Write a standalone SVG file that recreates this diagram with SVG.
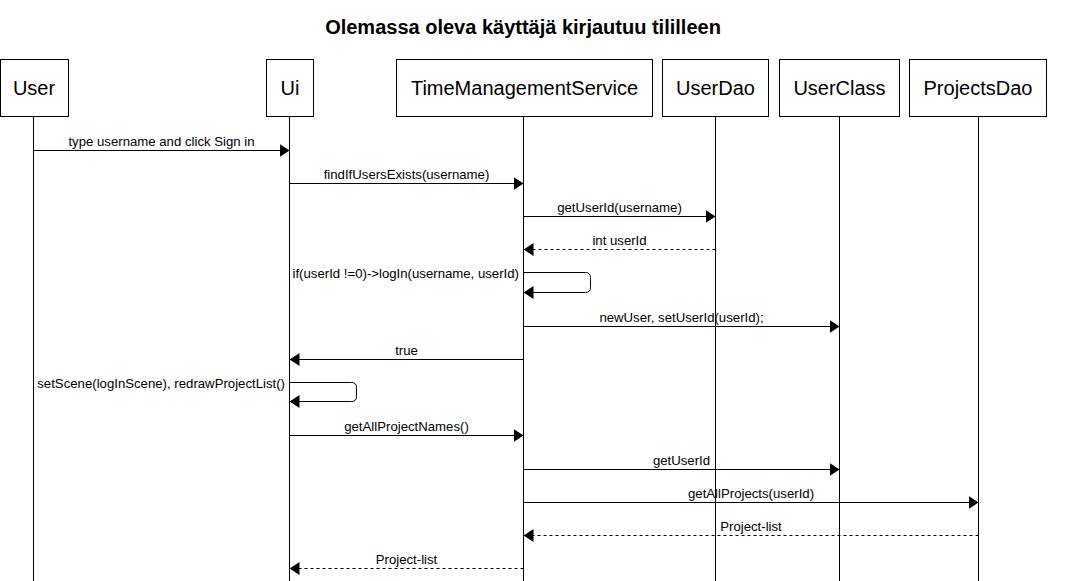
<svg xmlns="http://www.w3.org/2000/svg" width="1077" height="581" viewBox="0 0 1077 581">
<style>
.box{fill:#fff;stroke:#000;stroke-width:1}
.life{stroke:#000;stroke-width:1;fill:none}
.msg{stroke:#000;stroke-width:1;fill:none;marker-end:url(#arr)}
.ret{stroke:#000;stroke-width:1;fill:none;stroke-dasharray:3 3;marker-end:url(#arr)}
.nt{font-family:"Liberation Sans",Arial,sans-serif;font-size:20px;fill:#000;text-anchor:middle}
.lb{font-family:"Liberation Sans",Arial,sans-serif;font-size:13.2px;fill:#000;text-anchor:middle}
.lr{font-family:"Liberation Sans",Arial,sans-serif;font-size:13.2px;fill:#000;text-anchor:end}
.title{font-family:"Liberation Sans",Arial,sans-serif;font-size:20px;font-weight:bold;fill:#000;text-anchor:middle}
</style>
<defs>
<marker id="arr" markerUnits="userSpaceOnUse" viewBox="0 0 10 13" refX="10" refY="6.5" markerWidth="10" markerHeight="13" orient="auto">
<path d="M0,0 L10,6.5 L0,13 Z" fill="#000"/>
</marker>
</defs>
<rect width="1077" height="581" fill="#fff"/>
<text class="title" x="523" y="34">Olemassa oleva käyttäjä kirjautuu tililleen</text>

<g id="user">
<line class="life" x1="33.5" y1="116.5" x2="33.5" y2="581"/>
<rect class="box" x="0.5" y="59.5" width="68" height="57"/>
<text class="nt" x="34" y="95">User</text>
</g>
<g id="ui">
<line class="life" x1="289.5" y1="116.5" x2="289.5" y2="581"/>
<rect class="box" x="266.5" y="59.5" width="47" height="57"/>
<text class="nt" x="290" y="95">Ui</text>
</g>
<g id="tms">
<line class="life" x1="523.5" y1="116.5" x2="523.5" y2="581"/>
<rect class="box" x="396.5" y="59.5" width="256" height="57"/>
<text class="nt" x="524.5" y="95">TimeManagementService</text>
</g>
<g id="userdao">
<line class="life" x1="715.5" y1="116.5" x2="715.5" y2="581"/>
<rect class="box" x="662.5" y="59.5" width="106" height="57"/>
<text class="nt" x="715.5" y="95">UserDao</text>
</g>
<g id="userclass">
<line class="life" x1="839.5" y1="116.5" x2="839.5" y2="581"/>
<rect class="box" x="779.5" y="59.5" width="120" height="57"/>
<text class="nt" x="839.5" y="95">UserClass</text>
</g>
<g id="projectsdao">
<line class="life" x1="978.5" y1="116.5" x2="978.5" y2="581"/>
<rect class="box" x="909.5" y="59.5" width="137" height="57"/>
<text class="nt" x="978" y="95">ProjectsDao</text>
</g>

<g id="connectors">
<path class="msg" d="M33.5,150.5 H289.5"/>
<text class="lb" x="161.5" y="146">type username and click Sign in</text>

<path class="msg" d="M289.5,183.5 H523.5"/>
<text class="lb" x="406.5" y="179">findIfUsersExists(username)</text>

<path class="msg" d="M523.5,216.5 H715.5"/>
<text class="lb" x="619.5" y="212">getUserId(username)</text>

<path class="ret" d="M715.5,249.5 H523.5"/>
<text class="lb" x="619.5" y="245">int userId</text>

<path class="msg" d="M523.5,272.5 H585.5 Q590.5,272.5 590.5,277.5 V287.5 Q590.5,292.5 585.5,292.5 H523.5"/>
<text class="lr" x="519" y="278">if(userId !=0)-&gt;logIn(username, userId)</text>

<path class="msg" d="M523.5,326.5 H839.5"/>
<text class="lb" x="681.5" y="322">newUser, setUserId(userId);</text>

<path class="msg" d="M523.5,359.5 H289.5"/>
<text class="lb" x="406.5" y="355">true</text>

<path class="msg" d="M289.5,382.5 H351.5 Q356.5,382.5 356.5,387.5 V396.5 Q356.5,401.5 351.5,401.5 H289.5"/>
<text class="lr" x="285" y="388">setScene(logInScene), redrawProjectList()</text>

<path class="msg" d="M289.5,435.5 H523.5"/>
<text class="lb" x="406.5" y="431">getAllProjectNames()</text>

<path class="msg" d="M523.5,469.5 H839.5"/>
<text class="lb" x="681.5" y="465">getUserId</text>

<path class="msg" d="M523.5,502.5 H978.5"/>
<text class="lb" x="751" y="498">getAllProjects(userId)</text>

<path class="ret" d="M978.5,535.5 H523.5"/>
<text class="lb" x="751" y="531">Project-list</text>

<path class="ret" d="M523.5,568.5 H289.5"/>
<text class="lb" x="406.5" y="564">Project-list</text>
</g>
</svg>
